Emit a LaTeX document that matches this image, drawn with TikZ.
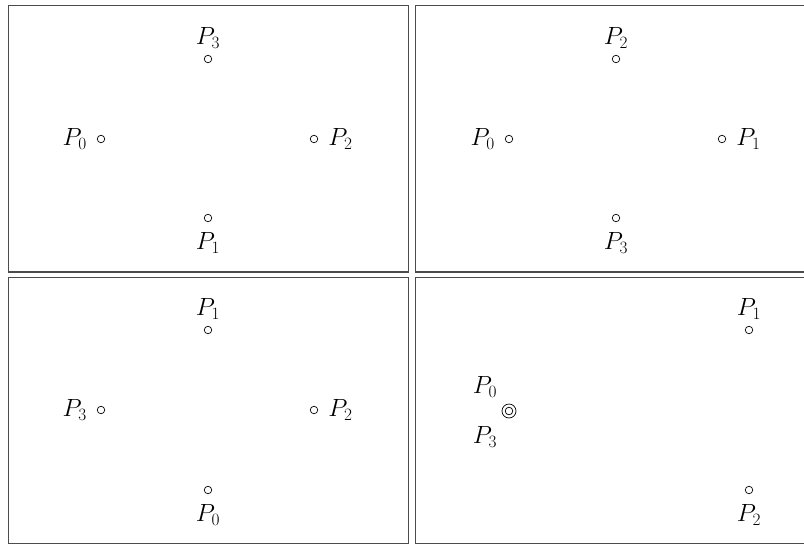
\documentclass[tikz,border=0pt]{standalone}
\DeclareMathSizes{24.88}{24.88}{17.28}{14.4}
\begin{document}
\begin{tikzpicture}[x=1pt,y=-1pt]
\tikzset{
  panel/.style={draw=black!70, line width=1.1pt},
  pnt/.style={circle, draw, inner sep=0pt, minimum size=7.5pt, line width=0.7pt},
  lbl/.style={font=\Huge, inner sep=1pt},
  lup/.style={lbl, label distance=5pt},
  ldown/.style={lbl, label distance=9pt},
  lleft/.style={lbl, label distance=9pt},
  lright/.style={lbl, label distance=9pt}}
\useasboundingbox (0,0) rectangle (804,544);
% panels
\draw[panel] (8.5,5.5) rectangle (408.5,272);
\draw[panel] (415.5,5.5) rectangle (815,272);
\draw[panel] (8.5,277.5) rectangle (408.5,543.5);
\draw[panel] (415.5,277.5) rectangle (815,543.5);
% top-left
\node[pnt, label={[lup]above:$P_3$}] (a3) at (208,59) {};
\node[pnt, label={[lleft]left:$P_0$}] (a0) at (101,139) {};
\node[pnt, label={[lright]right:$P_2$}] (a2) at (314,139) {};
\node[pnt, label={[ldown]below:$P_1$}] (a1) at (208,218) {};
% top-right
\node[pnt, label={[lup]above:$P_2$}] (b2) at (616,59) {};
\node[pnt, label={[lleft]left:$P_0$}] (b0) at (509,139) {};
\node[pnt, label={[lright]right:$P_1$}] (b1) at (722,139) {};
\node[pnt, label={[ldown]below:$P_3$}] (b3) at (616,218) {};
% bottom-left
\node[pnt, label={[lup]above:$P_1$}] (c1) at (208,330) {};
\node[pnt, label={[lleft]left:$P_3$}] (c3) at (101,410) {};
\node[pnt, label={[lright]right:$P_2$}] (c2) at (314,410) {};
\node[pnt, label={[ldown]below:$P_0$}] (c0) at (208,490) {};
% bottom-right
\node[pnt, minimum size=14pt,
  label={[lbl, label distance=0pt, xshift=-5.5pt, yshift=7.5pt]135:$P_0$},
  label={[lbl, label distance=0pt, xshift=-5.5pt, yshift=-9pt]225:$P_3$}] (d03) at (509,411) {};
\draw[line width=0.7pt] (d03.center) circle (3.8pt);
\node[pnt, label={[lup]above:$P_1$}] (d1) at (749,330) {};
\node[pnt, label={[ldown]below:$P_2$}] (d2) at (749,490) {};
\end{tikzpicture}
\end{document}
